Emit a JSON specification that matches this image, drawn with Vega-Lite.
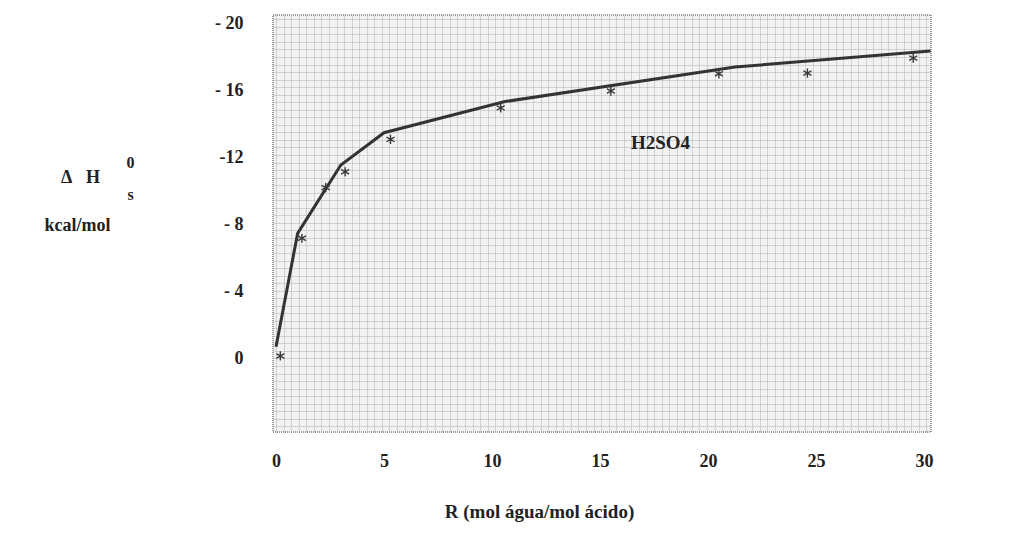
{
  "$schema": "https://vega.github.io/schema/vega-lite/v6.json",
  "width": 658,
  "height": 417,
  "autosize": "none",
  "padding": {"left": 273, "top": 15, "right": 93, "bottom": 108},
  "background": "#ffffff",
  "config": {
    "view": {"fill": "#f2f2f2", "stroke": "#9a9a9a", "strokeWidth": 2, "strokeDash": [1, 1]},
    "font": "Liberation Serif"
  },
  "datasets": {
    "curve": [
      {"R": 0, "dH": 0.7},
      {"R": 1, "dH": 7.47},
      {"R": 3, "dH": 11.55},
      {"R": 5, "dH": 13.48},
      {"R": 10.6, "dH": 15.34},
      {"R": 21.25, "dH": 17.4},
      {"R": 30.3, "dH": 18.36}
    ],
    "exp": [
      {"R": 0.2, "dH": 0.15},
      {"R": 1.2, "dH": 7.18},
      {"R": 2.3, "dH": 10.2},
      {"R": 3.2, "dH": 11.15},
      {"R": 5.3, "dH": 13.08},
      {"R": 10.4, "dH": 14.96},
      {"R": 15.5, "dH": 15.97},
      {"R": 20.5, "dH": 17.0},
      {"R": 24.6, "dH": 17.04},
      {"R": 29.5, "dH": 17.94}
    ],
    "label": [
      {"R": 17.8, "dH": 12.84, "text": "H2SO4"}
    ]
  },
  "resolve": {"axis": {"x": "independent", "y": "independent"}},
  "layer": [
    {
      "data": {"name": "curve"},
      "mark": {"type": "line", "color": "#333333", "strokeWidth": 3, "clip": true},
      "encoding": {
        "x": {
          "field": "R", "type": "quantitative",
          "scale": {"domain": [-0.14, 30.32], "nice": false, "zero": false},
          "axis": {
            "orient": "bottom", "title": null, "labels": false, "ticks": false, "domain": false,
            "grid": true, "gridColor": "#b0b0b0", "gridDash": [1, 1], "gridWidth": 1, "gridOpacity": 1,
            "values": [0, 0.35, 0.7, 1.05, 1.4, 1.75, 2.1, 2.45, 2.8, 3.15, 3.5, 3.85, 4.2, 4.55, 4.9, 5.25, 5.6, 5.95, 6.3, 6.65, 7, 7.35, 7.7, 8.05, 8.4, 8.75, 9.1, 9.45, 9.8, 10.15, 10.5, 10.85, 11.2, 11.55, 11.9, 12.25, 12.6, 12.95, 13.3, 13.65, 14, 14.35, 14.7, 15.05, 15.4, 15.75, 16.1, 16.45, 16.8, 17.15, 17.5, 17.85, 18.2, 18.55, 18.9, 19.25, 19.6, 19.95, 20.3, 20.65, 21, 21.35, 21.7, 22.05, 22.4, 22.75, 23.1, 23.45, 23.8, 24.15, 24.5, 24.85, 25.2, 25.55, 25.9, 26.25, 26.6, 26.95, 27.3, 27.65, 28, 28.35, 28.7, 29.05, 29.4, 29.75, 30.1]
          }
        },
        "y": {
          "field": "dH", "type": "quantitative",
          "scale": {"domain": [-4.39, 20.51], "nice": false, "zero": false},
          "axis": {
            "orient": "left", "labels": false, "ticks": false, "domain": false,
            "grid": true, "gridColor": "#b0b0b0", "gridDash": [1, 1], "gridWidth": 1, "gridOpacity": 1,
            "values": [-4.05, -3.6, -3.15, -2.7, -2.25, -1.8, -1.35, -0.9, -0.45, 0, 0.45, 0.9, 1.35, 1.8, 2.25, 2.7, 3.15, 3.6, 4.05, 4.5, 4.95, 5.4, 5.85, 6.3, 6.75, 7.2, 7.65, 8.1, 8.55, 9, 9.45, 9.9, 10.35, 10.8, 11.25, 11.7, 12.15, 12.6, 13.05, 13.5, 13.95, 14.4, 14.85, 15.3, 15.75, 16.2, 16.65, 17.1, 17.55, 18, 18.45, 18.9, 19.35, 19.8, 20.25],
            "title": "Δ\u00a0\u00a0\u00a0H",
            "titleFont": "Liberation Serif", "titleFontSize": 18, "titleFontWeight": "bold", "titleColor": "#222222",
            "titleAngle": 0, "titleAlign": "center", "titleBaseline": "middle",
            "titleX": -193, "titleY": 162
          }
        }
      }
    },
    {
      "data": {"name": "exp"},
      "mark": {
        "type": "point",
        "shape": "M0,-1L0,1M-0.87,-0.5L0.87,0.5M-0.87,0.5L0.87,-0.5",
        "filled": false, "stroke": "#3a3a3a", "strokeWidth": 1.4, "size": 85, "opacity": 1
      },
      "encoding": {
        "x": {
          "field": "R", "type": "quantitative",
          "axis": {
            "orient": "bottom", "grid": false, "ticks": false, "domain": false,
            "values": [0, 5, 10, 15, 20, 25, 30],
            "labelFont": "Liberation Serif", "labelFontSize": 18, "labelFontWeight": "bold", "labelColor": "#222222",
            "labelPadding": 20,
            "title": "R (mol água/mol ácido)",
            "titleFont": "Liberation Serif", "titleFontSize": 19, "titleFontWeight": "bold", "titleColor": "#222222",
            "titleAlign": "center", "titleBaseline": "middle", "titleX": 266, "titleY": 79
          }
        },
        "y": {
          "field": "dH", "type": "quantitative",
          "axis": {
            "orient": "left", "grid": false, "ticks": false, "domain": false,
            "values": [0, 4, 8, 12, 16, 20],
            "labelExpr": "datum.value == 0 ? '0' : (datum.value == 12 ? '-12' : '- ' + datum.value)",
            "labelFont": "Liberation Serif", "labelFontSize": 18, "labelFontWeight": "bold", "labelColor": "#222222",
            "labelPadding": 30,
            "title": "kcal/mol",
            "titleFont": "Liberation Serif", "titleFontSize": 18, "titleFontWeight": "bold", "titleColor": "#222222",
            "titleAngle": 0, "titleAlign": "center", "titleBaseline": "middle",
            "titleX": -196, "titleY": 210
          }
        }
      }
    },
    {
      "data": {"name": "label"},
      "mark": {"type": "text", "font": "Liberation Serif", "fontSize": 19, "fontWeight": "bold", "color": "#222222", "align": "center", "baseline": "middle"},
      "encoding": {
        "x": {"field": "R", "type": "quantitative", "axis": null},
        "y": {
          "field": "dH", "type": "quantitative",
          "axis": {
            "orient": "left", "grid": false, "ticks": false, "domain": false, "labels": false,
            "title": ["0", "s"],
            "titleFont": "Liberation Serif", "titleFontSize": 16, "titleFontWeight": "bold", "titleColor": "#222222",
            "titleAngle": 0, "titleAlign": "center", "titleBaseline": "middle", "titleLineHeight": 32,
            "titleX": -143, "titleY": 147
          }
        },
        "text": {"field": "text"}
      }
    }
  ]
}
